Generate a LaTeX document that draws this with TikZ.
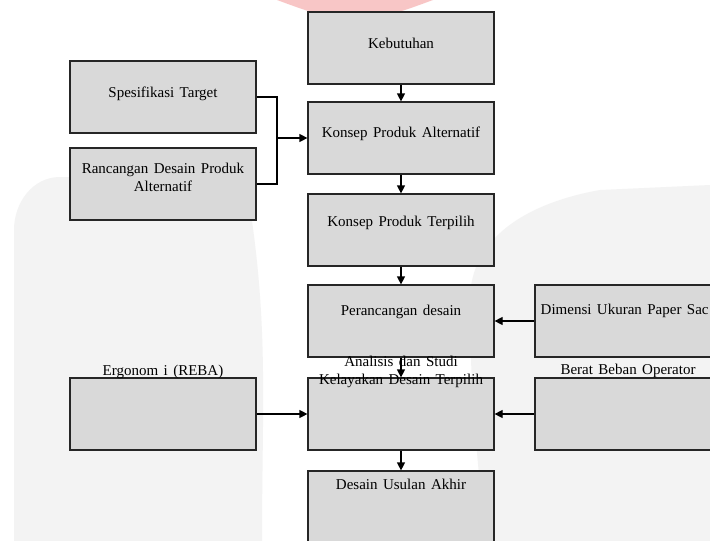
\documentclass[tikz,border=0pt]{standalone}
\usepackage{fontspec}
\setmainfont{Liberation Serif}[WordSpace=1.45]
\usetikzlibrary{arrows.meta}
\definecolor{boxfill}{HTML}{D9D9D9}
\definecolor{wmgrey}{HTML}{F3F3F3}
\definecolor{wmpink}{HTML}{F4A0A0}
\tikzset{
  box/.style={draw=black!85, fill=boxfill, line width=1.2pt, minimum width=186pt, minimum height=72pt, inner sep=0pt},
  lbl/.style={font=\fontsize{15}{18}\selectfont, inner sep=0pt, align=center},
  blbl/.style={lbl, anchor=base},
  conn/.style={line width=1.2pt, draw=black},
  arr/.style={conn, -{Triangle[length=8pt,width=8pt]}}
}
\begin{document}
\begin{tikzpicture}[x=1pt, y=-1pt]
\clip (0,0) rectangle (710,541);
\fill[white] (0,0) rectangle (710,541);
% faint watermark
\fill[wmgrey] (14,541) -- (14,230) to[out=90,in=180] (60,177) -- (245,177) to[out=-80,in=90] (262,541) -- cycle;
\fill[wmgrey] (485,541) to[out=95,in=-90] (470,300) to[out=90,in=190] (600,190) -- (710,185) -- (710,541) -- cycle;
\fill[wmpink, opacity=0.6] (277,0) to[out=-20,in=180] (355,18) to[out=0,in=200] (433,0) -- cycle;

% boxes
\node[box] (keb)   at (401,48)  {};
\node[box] (spes)  at (163,97)  {};
\node[box] (ranc)  at (163,184) {};
\node[box] (kalt)  at (401,138) {};
\node[box] (kter)  at (401,230) {};
\node[box] (peran) at (401,321) {};
\node[box, minimum width=188pt] (dim) at (629,321) {};
\node[box] (ergo)  at (163,414) {};
\node[box] (anal)  at (401,414) {};
\node[box, minimum width=188pt] (berat) at (629,414) {};
\node[box] (desain) at (401,507) {};

% texts
\node[blbl] (tkeb)   at (401,48)  {Kebutuhan};
\node[blbl] (tspes)  at (163,97)  {Spesifikasi Target};
\node[lbl]  (tranc)  at (163,177.5) {Rancangan Desain Produk\\Alternatif};
\node[blbl] (tkalt)  at (401,137) {Konsep Produk Alternatif};
\node[blbl] (tkter)  at (401,226) {Konsep Produk Terpilih};
\node[blbl] (tperan) at (401,315) {Perancangan desain};
\node[blbl, anchor=base west] (tdim) at (540.5,314) {Dimensi Ukuran Paper Sac};
\node[blbl] (tergo)  at (163,375) {Ergonom i (REBA)};
\node[lbl]  (tanal)  at (401,371.5) {Analisis dan Studi\\Kelayakan Desain Terpilih};
\node[blbl] (tberat) at (628,374) {Berat Beban Operator};
\node[blbl] (tdes)   at (401,489) {Desain Usulan Akhir};

% connectors
\draw[arr] (keb.south) -- (kalt.north);
\draw[arr] (kalt.south) -- (kter.north);
\draw[arr] (kter.south) -- (peran.north);
\draw[arr] (peran.south) -- (anal.north);
\draw[arr] (anal.south) -- (desain.north);
\draw[arr] (dim.west) -- (peran.east);
\draw[arr] (berat.west) -- (anal.east);
\draw[arr] (ergo.east) -- (anal.west);
\coordinate (bj) at (277,138);
\draw[conn] (spes.east) -| (bj) |- (ranc.east);
\draw[arr] (bj) -- (kalt.west);
\end{tikzpicture}
\end{document}
